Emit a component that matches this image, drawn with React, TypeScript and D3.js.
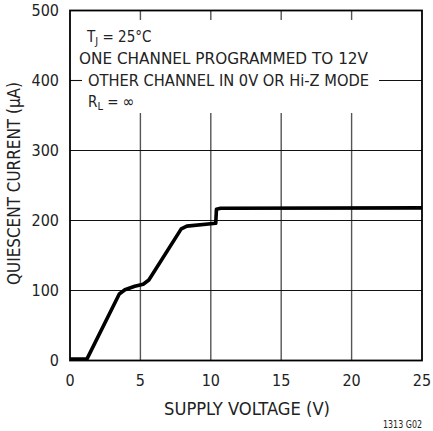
import React from 'react';
import * as d3 from 'd3';

// curve (supply voltage V, quiescent current uA)
const voltage = [0, 1.2, 3.5, 3.9, 4.6, 5.2, 5.6, 7.9, 8.3, 10.35, 10.4, 10.7, 25];
const current = [2, 2, 95, 101, 106, 109, 115, 188, 192, 196, 216, 217.5, 218];

const xTicks = [0, 5, 10, 15, 20, 25];
const yTicks = [0, 100, 200, 300, 400, 500];
const xGrid = [5, 10, 15, 20];
const yGrid = [100, 200, 300];

const FONT = '"Liberation Sans Narrow", "DejaVu Sans Condensed", "Liberation Sans", sans-serif';

const App = () => {
  const width = 433;
  const height = 431;

  const x = d3.scaleLinear().domain([0, 25]).range([70, 422]);
  const y = d3.scaleLinear().domain([0, 500]).range([360.5, 10.5]);

  const points = voltage.map((v, i) => [v, current[i]] as [number, number]);
  const line = d3
    .line<[number, number]>()
    .x((d) => x(d[0]))
    .y((d) => y(d[1]));

  // vertical grid is broken where the annotation sits
  const gapTop = 20;
  const gapBottom = 113;

  return (
    <svg
      width={width}
      height={height}
      style={{ position: 'absolute', left: 0, top: 0, background: '#fff' }}
      fontFamily={FONT}
    >
      <rect width={width} height={height} fill='#fff' />

      {/* vertical grid */}
      {xGrid.map((v) => (
        <g key={'vx' + v} stroke='#555' strokeWidth={1.4}>
          <line x1={x(v)} x2={x(v)} y1={y(500)} y2={gapTop} />
          <line x1={x(v)} x2={x(v)} y1={gapBottom} y2={y(0)} />
        </g>
      ))}

      {/* horizontal grid */}
      {yGrid.map((v) => (
        <line key={'hy' + v} x1={x(0)} x2={x(25)} y1={y(v)} y2={y(v)} stroke='#111' strokeWidth={1.1} />
      ))}
      <line x1={x(0)} x2={82} y1={y(400)} y2={y(400)} stroke='#111' strokeWidth={1.1} />
      <line x1={379} x2={x(25)} y1={y(400)} y2={y(400)} stroke='#111' strokeWidth={1.1} />

      {/* frame */}
      <rect
        x={x(0)}
        y={y(500)}
        width={x(25) - x(0)}
        height={y(0) - y(500)}
        fill='none'
        stroke='#000'
        strokeWidth={1.8}
      />

      {/* curve */}
      <path
        d={line(points) ?? ''}
        fill='none'
        stroke='#000'
        strokeWidth={3.6}
        strokeLinejoin='round'
        strokeLinecap='butt'
      />

      {/* y tick labels */}
      {yTicks.map((v) => (
        <text key={'yt' + v} x={59} y={y(v) + 5.5} textAnchor='end' fontSize={16} fill='#222'>
          {v}
        </text>
      ))}

      {/* x tick labels */}
      {xTicks.map((v) => (
        <text key={'xt' + v} x={x(v)} y={386} textAnchor='middle' fontSize={16} fill='#222'>
          {v}
        </text>
      ))}

      {/* axis titles */}
      <text
        transform='translate(19.5,183.5) rotate(-90)'
        textAnchor='middle'
        fontSize={17}
        fill='#222'
        textLength={203}
        lengthAdjust='spacingAndGlyphs'
      >
        QUIESCENT CURRENT (µA)
      </text>
      <text x={247} y={415} textAnchor='middle' fontSize={17} fill='#222' textLength={166} lengthAdjust='spacingAndGlyphs'>
        SUPPLY VOLTAGE (V)
      </text>
      <text x={422} y={427.5} textAnchor='end' fontSize={10.5} fill='#222' textLength={39} lengthAdjust='spacingAndGlyphs'>
        1313 G02
      </text>

      {/* annotation */}
      <g fontSize={15} fill='#222'>
        <text x={87} y={42}>
          T<tspan fontSize={11} dy={3}>J</tspan>
          <tspan dy={-3}> = 25°C</tspan>
        </text>
        <text x={79} y={64} textLength={289} lengthAdjust='spacingAndGlyphs'>
          ONE CHANNEL PROGRAMMED TO 12V
        </text>
        <text x={88} y={85.5} textLength={281} lengthAdjust='spacingAndGlyphs'>
          OTHER CHANNEL IN 0V OR Hi-Z MODE
        </text>
        <text x={88} y={106.5}>
          R<tspan fontSize={11} dy={3}>L</tspan>
          <tspan dy={-3}> = </tspan>
          <tspan fontSize={16}>∞</tspan>
        </text>
      </g>
    </svg>
  );
};

export default App;
